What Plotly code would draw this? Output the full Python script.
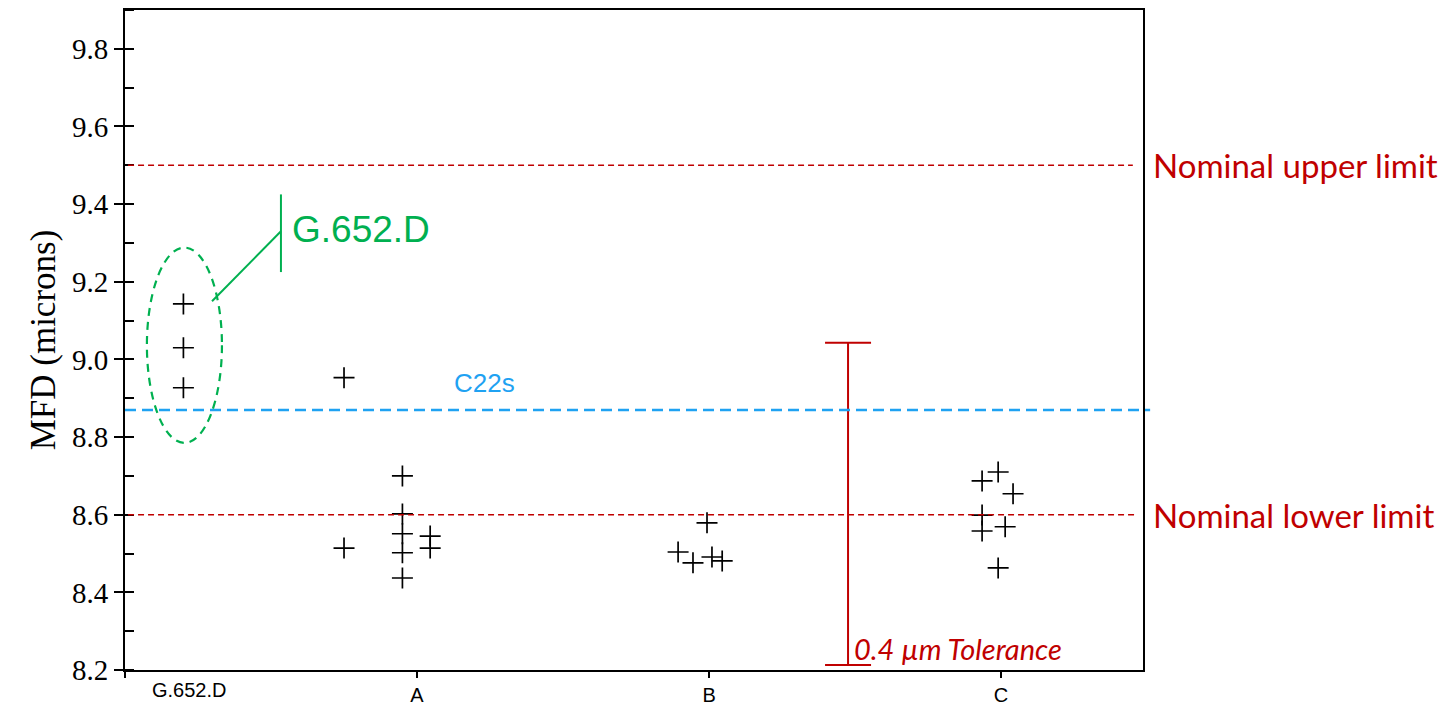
import plotly.graph_objects as go

# ---- data ----
categories = ["G.652.D", "A", "B", "C"]
cat_pos = [0, 1, 2, 3]

g652_x = [0.20, 0.20, 0.20]
g652_y = [9.143, 9.030, 8.927]

a_x = [0.75, 0.75, 0.95, 0.95, 0.95, 0.95, 0.95, 1.045, 1.045]
a_y = [8.953, 8.514, 8.700, 8.602, 8.551, 8.502, 8.437, 8.545, 8.514]

b_x = [1.993, 1.894, 1.945, 2.010, 2.045]
b_y = [8.579, 8.504, 8.476, 8.491, 8.481]

c_x = [2.990, 2.935, 3.041, 2.935, 2.935, 3.014, 2.990]
c_y = [8.710, 8.687, 8.654, 8.599, 8.558, 8.569, 8.463]

upper_limit = 9.5
lower_limit = 8.6
c22s_level = 8.87

tol_x = 2.476
tol_low = 8.213
tol_high = 9.043

RED = "#C00000"
CYAN = "#1FA2F2"
GREEN = "#00B050"

fig = go.Figure()

mk = dict(symbol="cross-thin", size=15, line=dict(width=1.7, color="black"), color="black")
for xs, ys in [(g652_x, g652_y), (a_x, a_y), (b_x, b_y), (c_x, c_y)]:
    fig.add_trace(go.Scatter(x=xs, y=ys, mode="markers", marker=mk,
                             showlegend=False, hoverinfo="y"))

# tolerance bar
tol_mid = (tol_low + tol_high) / 2
fig.add_trace(go.Scatter(
    x=[tol_x], y=[tol_mid], mode="markers",
    marker=dict(size=1, color="rgba(0,0,0,0)"),
    error_y=dict(type="data", array=[tol_high - tol_mid], symmetric=True,
                 color=RED, thickness=2, width=23),
    showlegend=False, hoverinfo="skip"))

# reference lines
fig.add_shape(type="line", xref="paper", yref="y", x0=0.003, x1=0.99,
              y0=upper_limit, y1=upper_limit,
              line=dict(color=RED, width=1.6, dash="6px,4px"))
fig.add_shape(type="line", xref="paper", yref="y", x0=0.003, x1=0.993,
              y0=lower_limit, y1=lower_limit,
              line=dict(color=RED, width=1.6, dash="6px,4px"))
fig.add_shape(type="line", xref="paper", yref="y", x0=0.0, x1=1.007,
              y0=c22s_level, y1=c22s_level,
              line=dict(color=CYAN, width=2.5, dash="11px,6px"))

# green ellipse + callout
fig.add_shape(type="circle", xref="x", yref="y", x0=0.075, x1=0.332,
              y0=8.785, y1=9.288, line=dict(color=GREEN, width=2.2, dash="8px,6px"))
fig.add_shape(type="line", xref="x", yref="y", x0=0.298, x1=0.534,
              y0=9.15, y1=9.33, line=dict(color=GREEN, width=2))
fig.add_shape(type="line", xref="x", yref="y", x0=0.534, x1=0.534,
              y0=9.225, y1=9.425, line=dict(color=GREEN, width=2))

fig.add_annotation(x=0.565, y=9.335, xref="x", yref="y", text="G.652.D",
                   showarrow=False, xanchor="left", yanchor="middle",
                   font=dict(family="Liberation Sans", size=37, color=GREEN))
fig.add_annotation(x=1.23, y=8.94, xref="x", yref="y", text="C22s",
                   showarrow=False, xanchor="center", yanchor="middle",
                   font=dict(family="Liberation Sans", size=26, color=CYAN))
fig.add_annotation(x=1.008, y=upper_limit, xref="paper", yref="y",
                   text="Nominal upper limit", showarrow=False,
                   xanchor="left", yanchor="middle",
                   font=dict(family="Lato", size=33, color=RED))
fig.add_annotation(x=1.008, y=lower_limit, xref="paper", yref="y",
                   text="Nominal lower limit", showarrow=False,
                   xanchor="left", yanchor="middle",
                   font=dict(family="Lato", size=33, color=RED))
fig.add_annotation(x=tol_x, y=8.255, xref="x", yref="y",
                   text="<i>0.4 \u00b5m Tolerance</i>", showarrow=False,
                   xanchor="left", yanchor="middle", xshift=4,
                   font=dict(family="Lato", size=29, color=RED))
# first category label sits to the right of its tick
fig.add_annotation(x=0.22, y=0, xref="x", yref="paper", text=categories[0],
                   showarrow=False, xanchor="center", yanchor="top", yshift=-7,
                   font=dict(family="Liberation Sans", size=20, color="black"))

fig.update_xaxes(range=[0, 3.486], tickvals=cat_pos,
                 ticktext=[""] + categories[1:], automargin=False,
                 ticks="outside", ticklen=6, tickwidth=1.5, tickcolor="black",
                 showline=True, linecolor="black", linewidth=2, mirror=True,
                 showgrid=False, zeroline=False,
                 tickfont=dict(family="Liberation Sans", size=20, color="black"))
fig.update_yaxes(range=[8.2, 9.9], tickvals=[8.2, 8.4, 8.6, 8.8, 9.0, 9.2, 9.4, 9.6, 9.8],
                 tickformat=".1f", automargin=False,
                 ticks="outside", ticklen=9, tickwidth=1.5, tickcolor="black",
                 minor=dict(dtick=0.1, ticks="inside", ticklen=9, tickwidth=1.5,
                            tickcolor="black", showgrid=False),
                 showline=True, linecolor="black", linewidth=2, mirror=True,
                 showgrid=False, zeroline=False,
                 title=dict(text="MFD (microns)", standoff=6,
                            font=dict(family="Liberation Serif", size=35, color="black")),
                 tickfont=dict(family="Liberation Serif", size=29, color="black"))

fig.update_layout(width=1447, height=707, margin=dict(l=125, r=304, t=10, b=37),
                  plot_bgcolor="white", paper_bgcolor="white")

fig.write_html("out.html")
